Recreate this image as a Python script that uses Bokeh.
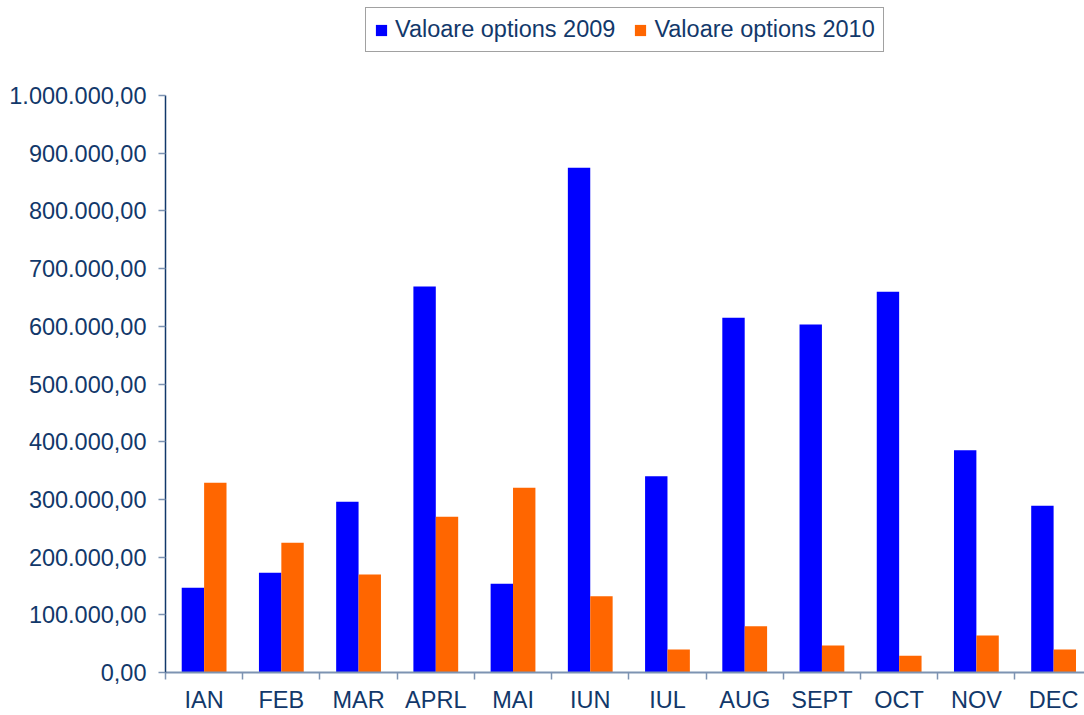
from bokeh.plotting import figure
from bokeh.models import Range1d, FixedTicker, Legend, LegendItem
from bokeh.embed import file_html
from bokeh.resources import INLINE

months = ["IAN", "FEB", "MAR", "APRL", "MAI", "IUN", "IUL", "AUG", "SEPT", "OCT", "NOV", "DEC"]
values_2009 = [147000, 173000, 296000, 669000, 154000, 875000, 340000, 615000, 603000, 660000, 385000, 289000]
values_2010 = [329000, 225000, 170000, 270000, 320000, 132000, 40000, 80000, 47000, 29000, 64000, 40000]
series_names = ["Valoare options 2009", "Valoare options 2010"]
y_ticks = list(range(0, 1000001, 100000))
y_max = 1000000

NAVY = "#12386a"
AXIS_GREY = "#7d93b2"
FONT = "Liberation Sans"
FS = "23.5px"

def fmt(v):
    s = f"{v:,}".replace(",", ".")
    return s + ",00"

# frame spans the full height; 1.000.000 sits 95px below the top, 0 at 672px
top_extra = y_max * 672 / 577
p = figure(width=1084, height=715, output_backend="svg", toolbar_location=None,
           x_range=Range1d(0, 11.90), y_range=Range1d(0, top_extra),
           min_border_left=165, min_border_right=0, min_border_top=0, min_border_bottom=10)
p.outline_line_color = None
p.xgrid.visible = False
p.ygrid.visible = False
p.background_fill_color = "white"
p.border_fill_color = "white"

centers = [i + 0.5 for i in range(len(months))]
bw = 0.29
r1 = p.vbar(x=[c - bw / 2 for c in centers], top=values_2009, width=bw,
            fill_color="#0000FF", line_color=None)
r2 = p.vbar(x=[c + bw / 2 for c in centers], top=values_2010, width=bw,
            fill_color="#FF6600", line_color=None)

# x axis
xa = p.xaxis[0]
xa.ticker = FixedTicker(ticks=centers, minor_ticks=list(range(0, len(months) + 1)))
xa.major_label_overrides = {c: m for c, m in zip(centers, months)}
xa.major_tick_out = 0
xa.major_tick_in = 0
xa.minor_tick_out = 7
xa.minor_tick_in = 0
xa.minor_tick_line_color = AXIS_GREY
xa.minor_tick_line_width = 1.5
xa.axis_line_color = AXIS_GREY
xa.axis_line_width = 2
xa.major_label_standoff = 7
xa.major_label_text_font = FONT
xa.major_label_text_font_size = FS
xa.major_label_text_color = NAVY

# y axis
ya = p.yaxis[0]
ya.ticker = FixedTicker(ticks=y_ticks, minor_ticks=[])
ya.bounds = (0, y_max)
ya.major_label_overrides = {t: fmt(t) for t in y_ticks}
ya.major_tick_out = 7
ya.major_tick_in = 0
ya.major_tick_line_color = AXIS_GREY
ya.major_tick_line_width = 1.5
ya.axis_line_color = NAVY
ya.axis_line_width = 1.5
ya.major_label_standoff = 12
ya.major_label_text_font = FONT
ya.major_label_text_font_size = FS
ya.major_label_text_color = NAVY

legend = Legend(items=[LegendItem(label=series_names[0], renderers=[r1]),
                       LegendItem(label=series_names[1], renderers=[r2])],
                orientation="horizontal", location=(200, 620),
                glyph_width=14, glyph_height=14, label_standoff=7, spacing=18,
                padding=8, margin=0,
                label_text_font=FONT, label_text_font_size=FS, label_text_color=NAVY,
                border_line_color="#444444", border_line_width=1.5,
                background_fill_color="white", background_fill_alpha=1.0)
p.add_layout(legend, "center")

open("out.html", "w").write(file_html(p, INLINE))
